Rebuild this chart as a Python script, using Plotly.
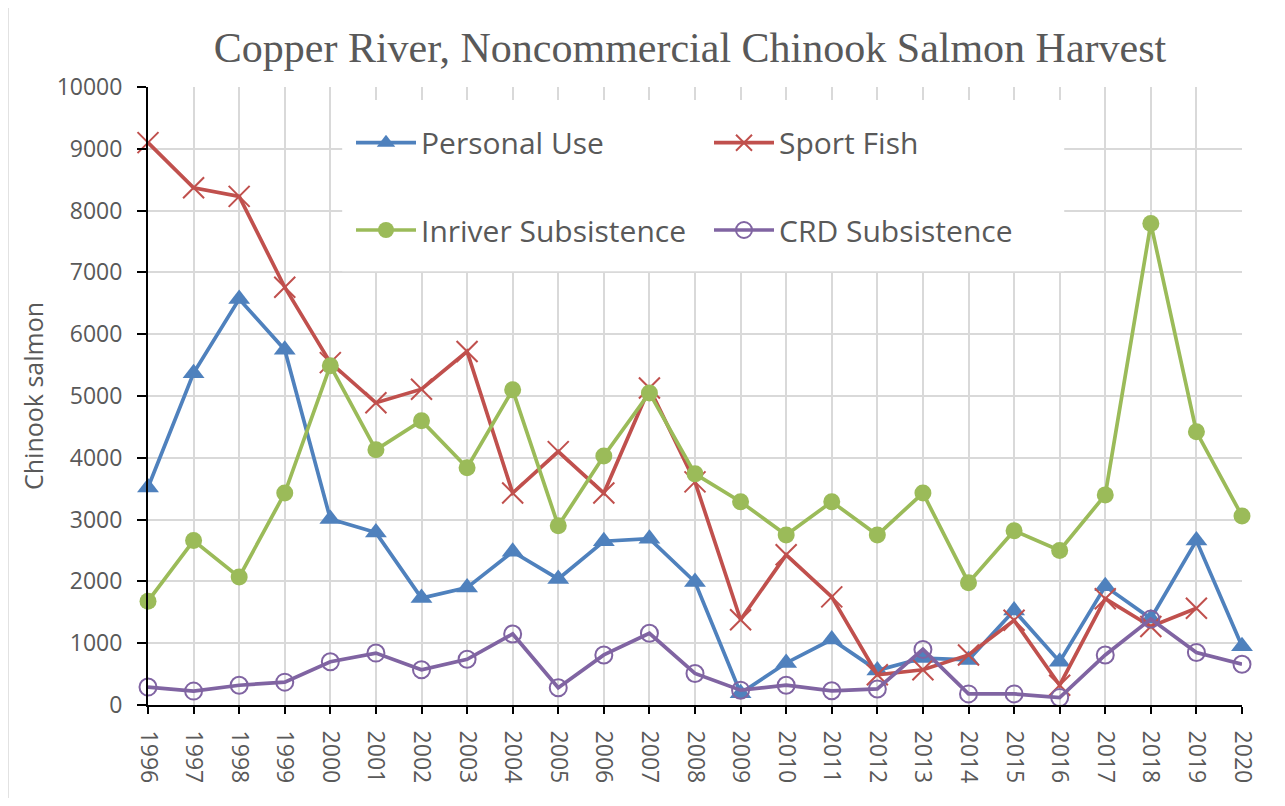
import plotly.graph_objects as go

# ---------------- data ----------------
years = list(range(1996, 2021))
personal_use = [3520, 5370, 6570, 5750, 3010, 2790, 1730, 1900, 2480, 2040,
                2650, 2690, 1990, 190, 680, 1060, 560, 760, 730, 1530,
                700, 1920, 1400, 2660, 950]
sport_fish = [9100, 8370, 8230, 6760, 5540, 4890, 5110, 5720, 3430, 4100,
              3430, 5130, 3610, 1380, 2430, 1750, 490, 570, 810, 1370,
              320, 1720, 1270, 1565, None]
inriver_subsistence = [1680, 2660, 2070, 3430, 5490, 4130, 4600, 3840, 5100, 2900,
                       4030, 5050, 3740, 3290, 2750, 3290, 2750, 3430, 1980, 2820,
                       2500, 3400, 7790, 4420, 3060]
crd_subsistence = [290, 225, 320, 370, 700, 840, 570, 740, 1150, 280,
                   810, 1160, 510, 240, 320, 230, 260, 900, 180, 180,
                   120, 810, 1390, 850, 660]
series_names = ["Personal Use", "Sport Fish", "Inriver Subsistence", "CRD Subsistence"]
title_text = "Copper River, Noncommercial Chinook Salmon Harvest"
y_title = "Chinook salmon"
y_ticks = list(range(0, 10001, 1000))
y_ticktext = [str(v) for v in y_ticks]
x_ticktext = [str(y) for y in years]

# ---------------- styling / layout ----------------
BLUE, RED, GREEN, PURPLE = "#4F81BD", "#C0504D", "#9BBB59", "#8064A2"
TXT = "#595959"
GRID = "#D9D9D9"
FONT = "Open Sans"

OFF = 8  # default body margin of the html page
W, H = 1285 - 2 * OFF, 806 - 2 * OFF
PL, PR, PT, PB = 148, 1242, 87, 705  # target plot area in page pixels
ml, mt = PL - OFF, PT - OFF
mr = W - (PR - OFF)
mb = H - (PB - OFF)
pw, ph = PR - PL, PB - PT

fig = go.Figure()

common_line = dict(width=3.7)
fig.add_trace(go.Scatter(
    x=years, y=personal_use, name=series_names[0], mode="lines+markers",
    line=dict(color=BLUE, **common_line),
    marker=dict(symbol="triangle-up", size=19, color=BLUE),
    cliponaxis=False, legend="legend"))
fig.add_trace(go.Scatter(
    x=years, y=sport_fish, name=series_names[1], mode="lines+markers",
    line=dict(color=RED, **common_line),
    marker=dict(symbol="x-thin-open", size=21, color=RED, line=dict(color=RED, width=2)),
    cliponaxis=False, legend="legend"))
fig.add_trace(go.Scatter(
    x=years, y=inriver_subsistence, name=series_names[2], mode="lines+markers",
    line=dict(color=GREEN, **common_line),
    marker=dict(symbol="circle", size=17, color=GREEN),
    cliponaxis=False, legend="legend2"))
fig.add_trace(go.Scatter(
    x=years, y=crd_subsistence, name=series_names[3], mode="lines+markers",
    line=dict(color=PURPLE, **common_line),
    marker=dict(symbol="circle-open", size=17, color=PURPLE, line=dict(color=PURPLE, width=2)),
    cliponaxis=False, legend="legend2"))

# white legend box that hides the grid behind the legend
box = dict(type="rect", xref="x", yref="y", x0=2000.26, x1=2016.1, y0=7020, y1=9790,
           fillcolor="white", line=dict(width=0))
try:
    fig.add_shape(layer="between", **box)
except ValueError:
    fig.add_trace(go.Scatter(
        x=[box["x0"], box["x1"], box["x1"], box["x0"], box["x0"]],
        y=[box["y0"], box["y0"], box["y1"], box["y1"], box["y0"]],
        fill="toself", fillcolor="white", mode="lines", line=dict(width=0),
        hoverinfo="skip", showlegend=False))
    fig.data = (fig.data[-1],) + fig.data[:-1]

# outer chart border (only top/left edges lie inside the page)
fig.add_shape(type="rect", xref="paper", yref="paper",
              x0=(8 - PL) / pw, x1=(1300 - PL) / pw,
              y0=(PB - 830) / ph, y1=(PB - 6.5) / ph,
              line=dict(color=GRID, width=1.5), fillcolor="rgba(0,0,0,0)", layer="below")

# y-axis title
fig.add_annotation(text=y_title, textangle=-90, xref="paper", yref="paper",
                   x=(33 - PL) / pw, y=0.5, xanchor="center", yanchor="middle",
                   showarrow=False, font=dict(family=FONT, size=25, color=TXT))

legend_common = dict(
    orientation="h", xanchor="left", yanchor="middle",
    entrywidth=283, entrywidthmode="pixels", itemwidth=60,
    bgcolor="rgba(0,0,0,0)", borderwidth=0,
    font=dict(family=FONT, size=30, color=TXT),
)

fig.update_layout(
    width=W, height=H,
    margin=dict(l=ml, r=mr, t=mt, b=mb, autoexpand=False),
    paper_bgcolor="white", plot_bgcolor="white",
    title=dict(text=title_text, x=(690 - PL) / pw, xref="paper", xanchor="center",
               y=1 - (47 - OFF) / H, yref="container", yanchor="middle",
               font=dict(family="Liberation Serif", size=42, color=TXT)),
    legend=dict(x=(351 - PL) / pw, y=(PB - 142.7) / ph, **legend_common),
    legend2=dict(x=(351 - PL) / pw, y=(PB - 230) / ph, **legend_common),
    showlegend=True,
)

fig.update_xaxes(
    range=[years[0], years[-1]], tickmode="array", tickvals=years,
    ticktext=x_ticktext, tickangle=90, ticklabelstandoff=12,
    showgrid=True, gridcolor=GRID, gridwidth=2,
    showline=True, linecolor="black", linewidth=2,
    ticks="outside", ticklen=7, tickwidth=2, tickcolor="black",
    tickfont=dict(family=FONT, size=23, color=TXT),
    zeroline=False,
)
fig.update_yaxes(
    range=[0, 10000], tickmode="array", tickvals=y_ticks, ticktext=y_ticktext,
    ticklabelstandoff=10,
    showgrid=True, gridcolor=GRID, gridwidth=2,
    showline=True, linecolor="black", linewidth=2,
    ticks="outside", ticklen=9, tickwidth=2, tickcolor="black",
    tickfont=dict(family=FONT, size=23, color=TXT),
    zeroline=False,
)

fig.write_html("out.html")
